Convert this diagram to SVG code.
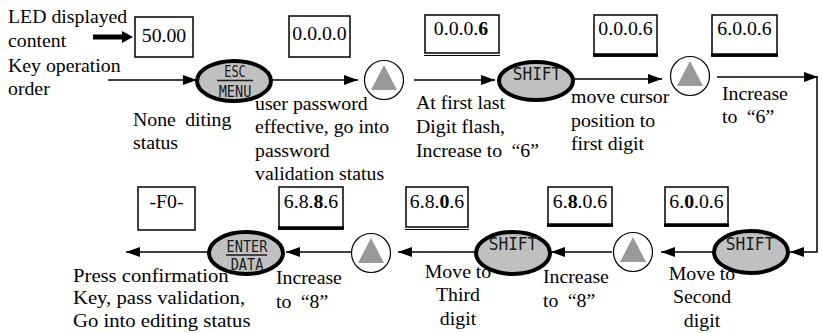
<svg xmlns="http://www.w3.org/2000/svg" width="823" height="333" viewBox="0 0 823 333">
<style>
  .bg{fill:#fff}
  .box{fill:#fff;stroke:#000;stroke-width:1.5}
  .bot{stroke:#000;stroke-width:3.5}
  .dbl{stroke:#000;stroke-width:1.2}
  .bt{font-family:"Liberation Serif","Times New Roman",serif;font-size:18px;fill:#000;text-anchor:middle}
  .lb{font-family:"Liberation Serif","Times New Roman",serif;font-size:18px;fill:#000}
  .lbm{font-family:"Liberation Serif","Times New Roman",serif;font-size:18px;fill:#000;text-anchor:middle}
  .key{fill:#c0c0c0;stroke:#000;stroke-width:4}
  .kt{font-family:"DejaVu Sans Mono","Liberation Mono",monospace;fill:#1a1a1a;text-anchor:middle}
  .kl{stroke:#1a1a1a;stroke-width:1.5}
  .up{fill:#fff;stroke:#000;stroke-width:1.2}
  .tri{fill:#999}
  .con{fill:none;stroke:#000;stroke-width:1.5;marker-end:url(#ah)}
</style>
<defs>
  <marker id="ah" viewBox="0 0 14 10" refX="14" refY="5" markerWidth="14" markerHeight="10" markerUnits="userSpaceOnUse" orient="auto">
    <path d="M0,0 L14,5 L0,10 z" fill="#000"/>
  </marker>
  <path id="upTri" d="M0,-15 L13,10 L-13,10 z"/>
</defs>
<rect class="bg" x="0" y="0" width="823" height="333"/>

<g id="connectors">
  <path class="con" d="M108,80 H197"/>
  <path class="con" d="M272,80 H358"/>
  <path class="con" d="M414,80 H495"/>
  <path class="con" d="M574,79 H662"/>
  <path class="con" d="M717,77 H818"/>
  <path class="con" d="M817,77 V252 H790"/>
  <path class="con" d="M712,252 H661"/>
  <path class="con" d="M612,252 H551"/>
  <path class="con" d="M476,252 H398"/>
  <path class="con" d="M351,252 H286"/>
  <path class="con" d="M208,252 H126"/>
  <g id="led-arrow">
    <line x1="93" y1="37" x2="123" y2="37" stroke="#000" stroke-width="5"/>
    <polygon points="122,31 133,37 122,43" fill="#000"/>
  </g>
</g>

<g id="legend">
  <text class="lb" transform="translate(8,0) scale(1.1,1)"><tspan x="0" y="23">LED displayed</tspan><tspan x="0" y="47">content</tspan><tspan x="0" y="72">Key operation</tspan><tspan x="0" y="95">order</tspan></text>
</g>

<!-- top row boxes -->
<g id="box-5000"><rect class="box" x="135" y="17" width="58" height="40"/><text class="bt" transform="translate(164,42) scale(1.1,1)">50.00</text></g>
<g id="box-0000"><rect class="box" x="289" y="16" width="61" height="41"/><text class="bt" transform="translate(319.5,40) scale(1.1,1)">0.0.0.0</text></g>
<g id="box-0006a"><rect class="box" x="425" y="15" width="74" height="38"/><line class="dbl" x1="424" y1="55.5" x2="500" y2="55.5"/><text class="bt" transform="translate(461,35) scale(1.1,1)">0.0.0.<tspan font-weight="bold">6</tspan></text></g>
<g id="box-0006b"><rect class="box" x="594" y="15" width="63" height="41"/><line class="bot" x1="593" y1="55" x2="658" y2="55"/><text class="bt" transform="translate(625.5,35) scale(1.1,1)">0.0.0.6</text></g>
<g id="box-6006a"><rect class="box" x="712" y="15" width="65" height="41"/><line class="bot" x1="711" y1="55" x2="778" y2="55"/><text class="bt" transform="translate(744.5,35) scale(1.1,1)">6.0.0.6</text></g>

<!-- bottom row boxes -->
<g id="box-F0"><rect class="box" x="138" y="187" width="57" height="43"/><text class="bt" transform="translate(166.5,208) scale(1.1,1)">-F0-</text></g>
<g id="box-6886"><rect class="box" x="279" y="187" width="64" height="42"/><line class="bot" x1="278" y1="228" x2="344" y2="228"/><text class="bt" transform="translate(311,208) scale(1.1,1)">6.8.<tspan font-weight="bold">8</tspan>.6</text></g>
<g id="box-6806a"><rect class="box" x="406" y="187" width="62" height="40"/><line class="dbl" x1="405" y1="229.5" x2="469" y2="229.5"/><text class="bt" transform="translate(437,208) scale(1.1,1)">6.8.<tspan font-weight="bold">0</tspan>.6</text></g>
<g id="box-6806b"><rect class="box" x="548" y="187" width="64" height="39"/><line class="bot" x1="547" y1="225" x2="613" y2="225"/><text class="bt" transform="translate(580,208) scale(1.1,1)">6.<tspan font-weight="bold">8</tspan>.0.6</text></g>
<g id="box-6006b"><rect class="box" x="665" y="187" width="63" height="39"/><line class="bot" x1="664" y1="225" x2="729" y2="225"/><text class="bt" transform="translate(696.5,208) scale(1.1,1)">6.<tspan font-weight="bold">0</tspan>.0.6</text></g>

<!-- keys -->
<g id="key-esc">
  <ellipse class="key" cx="234" cy="81" rx="37" ry="20"/>
  <text class="kt" font-size="15" transform="translate(235,77) scale(0.8,1)">ESC</text>
  <line class="kl" x1="217" y1="80.5" x2="253" y2="80.5"/>
  <text class="kt" font-size="16" transform="translate(235,97) scale(0.85,1)">MENU</text>
</g>
<g id="key-up1"><circle class="up" cx="384" cy="80" r="19.5"/><use href="#upTri" class="tri" x="384" y="80"/></g>
<g id="key-shift1">
  <ellipse class="key" cx="536" cy="81" rx="37" ry="19"/>
  <text class="kt" font-size="18" transform="translate(537,80) scale(0.9,1)">SHIFT</text>
</g>
<g id="key-up2"><circle class="up" cx="690" cy="76" r="19.5"/><use href="#upTri" class="tri" x="690" y="76"/></g>
<g id="key-shift2">
  <ellipse class="key" cx="751" cy="252" rx="37" ry="21"/>
  <text class="kt" font-size="18" transform="translate(750,250) scale(0.9,1)">SHIFT</text>
</g>
<g id="key-up3"><circle class="up" cx="633" cy="252" r="19.5"/><use href="#upTri" class="tri" x="633" y="252"/></g>
<g id="key-shift3">
  <ellipse class="key" cx="513" cy="253" rx="37" ry="21"/>
  <text class="kt" font-size="18" transform="translate(513,250) scale(0.9,1)">SHIFT</text>
</g>
<g id="key-up4"><circle class="up" cx="371" cy="253" r="19.5"/><use href="#upTri" class="tri" x="371" y="253"/></g>
<g id="key-enter">
  <ellipse class="key" cx="246" cy="253" rx="37" ry="21"/>
  <text class="kt" font-size="16" transform="translate(247,252) scale(0.85,1)">ENTER</text>
  <line class="kl" x1="226" y1="255" x2="267" y2="255"/>
  <text class="kt" font-size="16" transform="translate(247,270) scale(0.85,1)">DATA</text>
</g>

<!-- labels -->
<g id="label-none">
  <text class="lb" transform="translate(133,0) scale(1.1,1)"><tspan x="0" y="126">None <tspan dx="4">diting</tspan></tspan><tspan x="0" y="149">status</tspan></text>
</g>
<g id="label-password">
  <text class="lb" transform="translate(255,0) scale(1.1,1)"><tspan x="0" y="110">user password</tspan><tspan x="0" y="133">effective, go into</tspan><tspan x="0" y="157">password</tspan><tspan x="0" y="180">validation status</tspan></text>
</g>
<g id="label-first">
  <text class="lb" transform="translate(416,0) scale(1.1,1)"><tspan x="0" y="109">At first last</tspan><tspan x="0" y="133">Digit flash,</tspan><tspan x="0" y="157">Increase to <tspan dx="4">“6”</tspan></tspan></text>
</g>
<g id="label-move-first">
  <text class="lb" transform="translate(571,0) scale(1.1,1)"><tspan x="0" y="103">move cursor</tspan><tspan x="0" y="127">position to</tspan><tspan x="0" y="150">first digit</tspan></text>
</g>
<g id="label-inc6">
  <text class="lb" transform="translate(722,0) scale(1.1,1)"><tspan x="0" y="100">Increase</tspan><tspan x="0" y="123">to <tspan dx="4">“6”</tspan></tspan></text>
</g>
<g id="label-confirm">
  <text class="lb" transform="translate(73,0) scale(1.15,1)"><tspan x="0" y="282">Press confirmation</tspan><tspan x="0" y="304">Key, pass validation,</tspan><tspan x="0" y="327">Go into editing status</tspan></text>
</g>
<g id="label-inc8a">
  <text class="lb" transform="translate(276,0) scale(1.1,1)"><tspan x="0" y="284">Increase</tspan><tspan x="0" y="308">to <tspan dx="4">“8”</tspan></tspan></text>
</g>
<g id="label-third">
  <text class="lbm" transform="translate(458,0) scale(1.1,1)"><tspan x="0" y="278">Move to</tspan><tspan x="0" y="301">Third</tspan><tspan x="0" y="325">digit</tspan></text>
</g>
<g id="label-inc8b">
  <text class="lb" transform="translate(543,0) scale(1.1,1)"><tspan x="0" y="283">Increase</tspan><tspan x="0" y="307">to <tspan dx="4">“8”</tspan></tspan></text>
</g>
<g id="label-second">
  <text class="lbm" transform="translate(702,0) scale(1.1,1)"><tspan x="0" y="280">Move to</tspan><tspan x="0" y="303">Second</tspan><tspan x="0" y="327">digit</tspan></text>
</g>
</svg>
